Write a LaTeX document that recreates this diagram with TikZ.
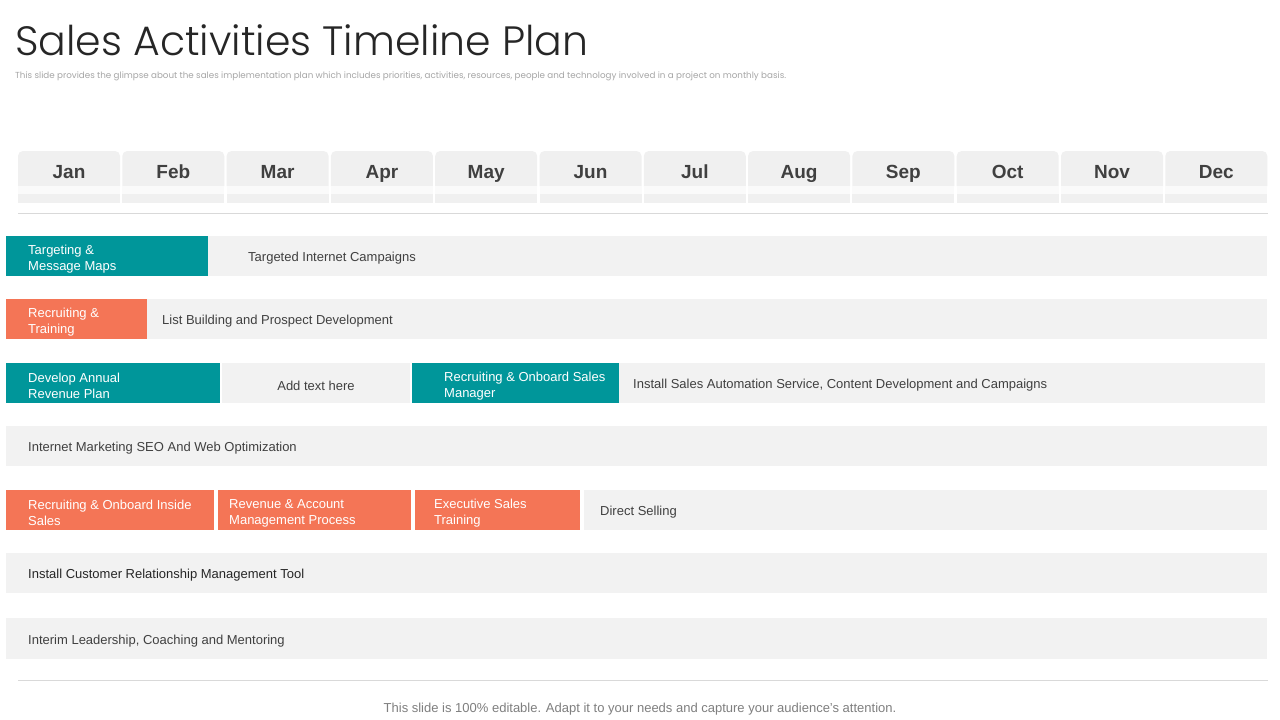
\documentclass[tikz,border=0pt]{standalone}
\usepackage{fontspec}
\setmainfont{Liberation Sans}
\newfontfamily\titlefont{Poppins Light}
\newfontfamily\subfont{Poppins}
\definecolor{tealc}{HTML}{00969A}
\definecolor{orangec}{HTML}{F47556}
\definecolor{barc}{HTML}{F2F2F2}
\definecolor{tabc}{HTML}{F0F0F0}
\definecolor{bandc}{HTML}{FAFAFA}
\definecolor{linec}{HTML}{D9D9D9}
\definecolor{darkt}{HTML}{404040}
\definecolor{titlec}{HTML}{262626}
\definecolor{subc}{HTML}{A6A6A6}
\definecolor{footc}{HTML}{7F7F7F}
\begin{document}
\begin{tikzpicture}[x=1pt,y=-1pt,
  box/.style={anchor=north west, minimum height=40pt, inner sep=0pt, outer sep=0pt},
  lbl/.style={anchor=west, inner sep=0pt, align=left, font=\fontsize{13}{16}\selectfont},
  wlbl/.style={lbl, text=white},
  dlbl/.style={lbl, text=darkt},
  monthlbl/.style={font=\fontsize{19}{20}\selectfont\bfseries, text=darkt, inner sep=0pt, anchor=base},
  sepline/.style={draw=linec, line width=1pt}]
\useasboundingbox (0,0) rectangle (1280,720);
\fill[white] (0,0) rectangle (1280,720);

% title and subtitle
\node[anchor=base west, inner sep=0pt, text=titlec] (title) at (15,55)
  {\resizebox{573pt}{!}{\titlefont Sales Activities Timeline Plan}};
\node[anchor=base west, inner sep=0pt, text=subc] (sub) at (15,78)
  {\resizebox{771pt}{!}{\subfont This slide provides the glimpse about the sales implementation plan which includes priorities, activities, resources, people and technology involved in a project on monthly basis.}};

% month header
\foreach \m [count=\i from 0] in {Jan,Feb,Mar,Apr,May,Jun,Jul,Aug,Sep,Oct,Nov,Dec}{
  \pgfmathsetmacro\xl{18+\i*104.3}
  \fill[tabc] (\xl,186) [rounded corners=5pt] -- (\xl,151) -- (\xl+102,151) [sharp corners] -- (\xl+102,186) -- cycle;
  \fill[bandc] (\xl,186) rectangle (\xl+102,194);
  \fill[tabc] (\xl,194) rectangle (\xl+102,203);
  \node[monthlbl] (m\i) at (\xl+51,178) {\m};
}
\coordinate (hl1) at (18,213);
\coordinate (hl2) at (1268,213);
\draw[sepline] (hl1) -- (hl2);

% row 1
\node[box, fill=tealc, minimum width=202pt] (r1a) at (6,236) {};
\node[box, fill=barc, minimum width=1059pt] (r1b) at (208,236) {};
\node[wlbl] (r1at) at ([xshift=22pt,yshift=-3pt]r1a.west) {Targeting \&\\Message Maps};
\node[dlbl] (r1bt) at ([xshift=40pt,yshift=-2.5pt]r1b.west) {Targeted Internet Campaigns};

% row 2
\node[box, fill=orangec, minimum width=141pt] (r2a) at (6,299) {};
\node[box, fill=barc, minimum width=1120pt] (r2b) at (147,299) {};
\node[wlbl] (r2at) at ([xshift=22pt,yshift=-3pt]r2a.west) {Recruiting \&\\Training};
\node[dlbl] (r2bt) at ([xshift=15pt,yshift=-2.5pt]r2b.west) {List Building and Prospect Development};

% row 3
\node[box, fill=tealc, minimum width=214pt] (r3a) at (6,363) {};
\node[box, fill=barc, minimum width=188pt] (r3b) at (222,363) {};
\node[box, fill=tealc, minimum width=207pt] (r3c) at (412,363) {};
\node[box, fill=barc, minimum width=646pt] (r3d) at (619,363) {};
\node[wlbl] (r3at) at ([xshift=22pt,yshift=-3pt]r3a.west) {Develop Annual\\Revenue Plan};
\node[dlbl, anchor=center] (r3bt) at ([yshift=-2.5pt]r3b.center) {Add text here};
\node[wlbl] (r3ct) at ([xshift=32pt,yshift=-3pt]r3c.west) {Recruiting \& Onboard Sales\\Manager};
\node[dlbl] (r3dt) at ([xshift=14pt,yshift=-2.5pt]r3d.west) {Install Sales Automation Service, Content Development and Campaigns};

% row 4
\node[box, fill=barc, minimum width=1261pt] (r4a) at (6,426) {};
\node[dlbl] (r4at) at ([xshift=22pt,yshift=-2.5pt]r4a.west) {Internet Marketing SEO And Web Optimization};

% row 5
\node[box, fill=orangec, minimum width=208pt] (r5a) at (6,490) {};
\node[box, fill=orangec, minimum width=193pt] (r5b) at (218,490) {};
\node[box, fill=orangec, minimum width=165pt] (r5c) at (415,490) {};
\node[box, fill=barc, minimum width=683pt] (r5d) at (584,490) {};
\node[wlbl] (r5at) at ([xshift=22pt,yshift=-3pt]r5a.west) {Recruiting \& Onboard Inside\\Sales};
\node[wlbl] (r5bt) at ([xshift=11pt,yshift=-3pt]r5b.west) {Revenue \& Account\\Management Process};
\node[wlbl] (r5ct) at ([xshift=19pt,yshift=-3pt]r5c.west) {Executive Sales\\Training};
\node[dlbl] (r5dt) at ([xshift=16pt,yshift=-2.5pt]r5d.west) {Direct Selling};

% row 6
\node[box, fill=barc, minimum width=1261pt] (r6a) at (6,553) {};
\node[lbl, text=titlec] (r6at) at ([xshift=22pt,yshift=-2.5pt]r6a.west) {Install Customer Relationship Management Tool};

% row 7
\node[box, fill=barc, minimum width=1261pt, minimum height=41pt] (r7a) at (6,618) {};
\node[dlbl] (r7at) at ([xshift=22pt,yshift=-2.5pt]r7a.west) {Interim Leadership, Coaching and Mentoring};

% footer
\coordinate (fl1) at (18,680);
\coordinate (fl2) at (1268,680);
\draw[sepline] (fl1) -- (fl2);
\node[inner sep=0pt, text=footc, font=\fontsize{13}{15}\selectfont] (foot) at (640,709)
  {This slide is 100\% editable. Adapt it to your needs and capture your audience's attention.};
\end{tikzpicture}
\end{document}
